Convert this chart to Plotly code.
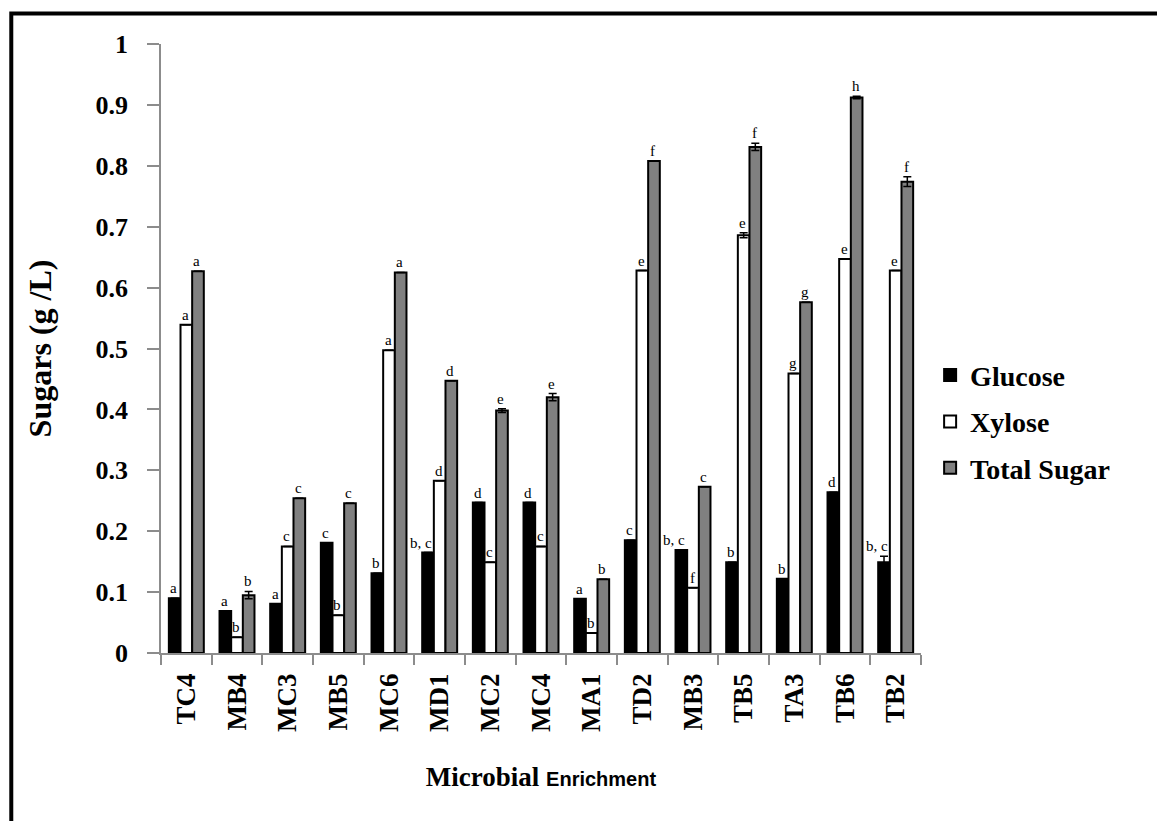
import plotly.graph_objects as go

categories = ["TC4", "MB4", "MC3", "MB5", "MC6", "MD1", "MC2", "MC4",
              "MA1", "TD2", "MB3", "TB5", "TA3", "TB6", "TB2"]
glucose = [0.090, 0.069, 0.081, 0.181, 0.131, 0.165, 0.247, 0.247,
           0.089, 0.185, 0.169, 0.149, 0.122, 0.264, 0.149]
xylose = [0.539, 0.026, 0.175, 0.062, 0.497, 0.283, 0.149, 0.175,
          0.033, 0.628, 0.107, 0.686, 0.459, 0.647, 0.628]
total = [0.627, 0.095, 0.254, 0.246, 0.625, 0.447, 0.398, 0.420,
         0.121, 0.808, 0.273, 0.831, 0.576, 0.912, 0.774]
glucose_err = [0, 0, 0, 0, 0, 0, 0, 0, 0, 0, 0, 0, 0, 0, 0.010]
xylose_err = [0, 0, 0, 0, 0, 0, 0, 0, 0, 0, 0, 0.004, 0, 0, 0]
total_err = [0, 0.006, 0, 0, 0, 0, 0.003, 0.006, 0, 0, 0, 0.006, 0, 0.002, 0.008]
glucose_lbl = ["a", "a", "a", "c", "b", "b, c", "d", "d", "a", "c", "b, c", "b", "b", "d", "b, c"]
xylose_lbl = ["a", "b", "c", "b", "a", "d", "c", "c", "b", "e", "f", "e", "g", "e", "e"]
total_lbl = ["a", "b", "c", "c", "a", "d", "e", "e", "b", "f", "c", "f", "g", "h", "f"]

SERIF = "Liberation Serif, Times New Roman, serif"

W, H = 1157, 821
ML, MR, MT, MB = 161, 236, 44, 168
BARGAP = 0.31

series = [
    ("Glucose", glucose, glucose_err, glucose_lbl, "#000000"),
    ("Xylose", xylose, xylose_err, xylose_lbl, "#ffffff"),
    ("Total Sugar", total, total_err, total_lbl, "#808080"),
]

fig = go.Figure()
for name, vals, errs, lbls, col in series:
    fig.add_trace(go.Bar(
        name=name, x=categories, y=vals,
        marker=dict(color=col, line=dict(color="#000000", width=2)),
        error_y=dict(type="data", array=errs, color="#000000", thickness=1.5, width=4),
        legendgroup=name,
    ))

# letter annotations above each bar
cat_px = (W - ML - MR) / len(categories)
bar_px = cat_px * (1 - BARGAP) / len(series)
for si, (name, vals, errs, lbls, col) in enumerate(series):
    off = (si - 1) * bar_px
    for c, v, e, t in zip(categories, vals, errs, lbls):
        multi = len(t) > 1
        fig.add_annotation(
            x=c, y=v + e, xref="x", yref="y",
            text=t, showarrow=False,
            xanchor="right" if multi else "center", yanchor="bottom",
            xshift=off + (bar_px / 2 if multi else -1), yshift=0,
            font=dict(family=SERIF, size=15, color="#000000"),
        )

fig.update_layout(
    width=W, height=H,
    paper_bgcolor="white", plot_bgcolor="white",
    margin=dict(l=ML, r=MR, t=MT, b=MB),
    barmode="group", bargap=BARGAP, bargroupgap=0,
    font=dict(family=SERIF, color="#000000"),
    legend=dict(
        x=1.012, y=0.497, xanchor="left", yanchor="top",
        font=dict(family=SERIF, size=28, weight="bold", color="#000000"),
        traceorder="grouped", tracegroupgap=7,
        bgcolor="rgba(0,0,0,0)",
    ),
    showlegend=True,
)

fig.update_yaxes(
    range=[0, 1], dtick=0.1, tick0=0,
    showgrid=False, zeroline=False,
    showline=True, linecolor="#8c8c8c", linewidth=1.5,
    ticks="outside", ticklen=12, tickcolor="#8c8c8c", tickwidth=1.5,
    ticklabelstandoff=14,
    tickfont=dict(family=SERIF, size=26, weight="bold", color="#000000"),
    title=dict(text="Sugars (g /L)", standoff=34,
               font=dict(family=SERIF, size=32, weight="bold", color="#000000")),
)
fig.update_xaxes(
    showgrid=False, showline=True, linecolor="#8c8c8c", linewidth=1.5,
    ticks="outside", tickson="boundaries", ticklen=10, tickcolor="#8c8c8c", tickwidth=1.5,
    tickangle=-90, ticklabelstandoff=8,
    tickfont=dict(family=SERIF, size=27, weight="bold", color="#000000"),
    title=dict(
        text="<b>Microbial</b> <span style='font-family:Liberation Sans Narrow, Arial Narrow, Liberation Sans, sans-serif; font-size:20px'><b>Enrichment</b></span>",
        standoff=36,
        font=dict(family=SERIF, size=27, color="#000000")),
)

# outer frame
fig.add_shape(type="rect", xref="paper", yref="paper",
              x0=-0.197, x1=1.45, y0=-0.35, y1=1.05,
              line=dict(color="#000000", width=4), fillcolor="rgba(0,0,0,0)", layer="above")

fig.write_html("out.html", config={"displayModeBar": False},
               post_script="document.body.style.margin='0';document.body.style.overflow='hidden';")
